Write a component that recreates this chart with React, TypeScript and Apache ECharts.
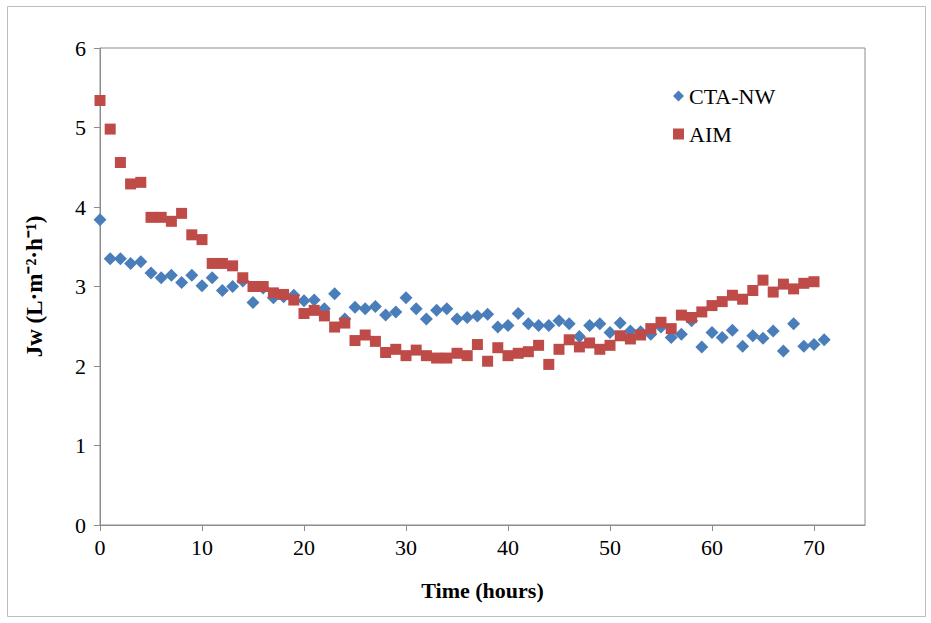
import React, { useEffect, useRef } from "react";
import * as echarts from "echarts";

const ctaHours = [0, 1, 2, 3, 4, 5, 6, 7, 8, 9, 10, 11, 12, 13, 14, 15, 16, 17, 18, 19, 20, 21, 22, 23, 24, 25, 26, 27, 28, 29, 30, 31, 32, 33, 34, 35, 36, 37, 38, 39, 40, 41, 42, 43, 44, 45, 46, 47, 48, 49, 50, 51, 52, 53, 54, 55, 56, 57, 58, 59, 60, 61, 62, 63, 64, 65, 66, 67, 68, 69, 70, 71];
const ctaValues = [3.84, 3.35, 3.35, 3.29, 3.31, 3.17, 3.11, 3.14, 3.05, 3.14, 3.01, 3.11, 2.95, 3.0, 3.07, 2.8, 2.98, 2.86, 2.87, 2.89, 2.82, 2.83, 2.72, 2.91, 2.59, 2.74, 2.72, 2.75, 2.64, 2.68, 2.86, 2.72, 2.59, 2.7, 2.72, 2.59, 2.61, 2.63, 2.65, 2.49, 2.51, 2.66, 2.53, 2.51, 2.51, 2.57, 2.53, 2.37, 2.51, 2.53, 2.42, 2.54, 2.44, 2.43, 2.4, 2.49, 2.36, 2.4, 2.57, 2.24, 2.42, 2.36, 2.45, 2.25, 2.38, 2.35, 2.44, 2.19, 2.53, 2.25, 2.27, 2.33];
const aimHours = [0, 1, 2, 3, 4, 5, 6, 7, 8, 9, 10, 11, 12, 13, 14, 15, 16, 17, 18, 19, 20, 21, 22, 23, 24, 25, 26, 27, 28, 29, 30, 31, 32, 33, 34, 35, 36, 37, 38, 39, 40, 41, 42, 43, 44, 45, 46, 47, 48, 49, 50, 51, 52, 53, 54, 55, 56, 57, 58, 59, 60, 61, 62, 63, 64, 65, 66, 67, 68, 69, 70];
const aimValues = [5.34, 4.98, 4.56, 4.29, 4.31, 3.87, 3.87, 3.82, 3.92, 3.65, 3.59, 3.29, 3.29, 3.26, 3.11, 3.0, 3.0, 2.92, 2.9, 2.83, 2.66, 2.7, 2.63, 2.49, 2.54, 2.32, 2.39, 2.31, 2.17, 2.21, 2.13, 2.2, 2.13, 2.1, 2.1, 2.16, 2.13, 2.27, 2.06, 2.23, 2.13, 2.16, 2.18, 2.26, 2.02, 2.21, 2.33, 2.24, 2.29, 2.21, 2.26, 2.38, 2.34, 2.39, 2.47, 2.55, 2.47, 2.64, 2.61, 2.68, 2.76, 2.81, 2.89, 2.84, 2.95, 3.08, 2.93, 3.03, 2.97, 3.04, 3.06];

const seriesNames = ["CTA-NW", "AIM"];
const xTitle = "Time (hours)";
const yTitle = "Jw (L·m⁻²·h⁻¹)";

const FONT = "Liberation Serif";

export default function App() {
  const ref = useRef<HTMLDivElement>(null);
  useEffect(() => {
    if (!ref.current) return;
    const chart = echarts.init(ref.current, undefined, { renderer: "svg" });
    const axisLine = { show: true, lineStyle: { color: "#8c8c8c", width: 1 } };
    chart.setOption({
      animation: false,
      backgroundColor: "#ffffff",
      textStyle: { fontFamily: FONT },
      graphic: [
        {
          type: "rect",
          shape: { x: 7.5, y: 6.5, width: 918, height: 610 },
          style: { fill: "none", stroke: "#bdbdbd", lineWidth: 1 },
          silent: true,
        },
      ],
      grid: { left: 100, right: 66, top: 48, bottom: 98, show: true, borderColor: "#8c8c8c", borderWidth: 1, backgroundColor: "transparent" },
      legend: {
        orient: "vertical",
        left: 668,
        top: 80,
        itemGap: 16,
        itemWidth: 11,
        itemHeight: 11,
        textStyle: { fontFamily: FONT, fontSize: 22, color: "#000" },
        data: [
          { name: seriesNames[0], icon: "diamond" },
          { name: seriesNames[1], icon: "rect" },
        ],
      },
      xAxis: {
        type: "value",
        min: 0,
        max: 75,
        interval: 10,
        name: xTitle,
        nameLocation: "middle",
        nameGap: 54,
        nameTextStyle: { fontFamily: FONT, fontSize: 22, fontWeight: "bold", color: "#000" },
        axisLine: { ...axisLine, onZero: false },
        axisTick: { show: true, length: 6, lineStyle: { color: "#8c8c8c" } },
        axisLabel: { fontFamily: FONT, fontSize: 22, color: "#000", margin: 11, showMaxLabel: false },
        splitLine: { show: false },
      },
      yAxis: {
        type: "value",
        min: 0,
        max: 6,
        interval: 1,
        name: yTitle,
        nameLocation: "middle",
        nameGap: 54,
        nameTextStyle: { fontFamily: FONT, fontSize: 23, fontWeight: "bold", color: "#000" },
        axisLine,
        axisTick: { show: true, length: 6, lineStyle: { color: "#8c8c8c" } },
        axisLabel: { fontFamily: FONT, fontSize: 22, color: "#000", margin: 14 },
        splitLine: { show: false },
      },
      series: [
        {
          name: seriesNames[0],
          type: "scatter",
          symbol: "diamond",
          symbolSize: 13,
          itemStyle: { color: "#4a7ebb", opacity: 1 },
          data: ctaHours.map((h, i) => [h, ctaValues[i]]),
          z: 2,
        },
        {
          name: seriesNames[1],
          type: "scatter",
          symbol: "rect",
          symbolSize: 11,
          itemStyle: { color: "#be4b48", opacity: 1 },
          data: aimHours.map((h, i) => [h, aimValues[i]]),
          z: 3,
        },
      ],
    });
    return () => chart.dispose();
  }, []);
  return (
    <div
      ref={ref}
      style={{ position: "fixed", left: 0, top: 0, width: 931, height: 623, background: "#fff" }}
    />
  );
}
